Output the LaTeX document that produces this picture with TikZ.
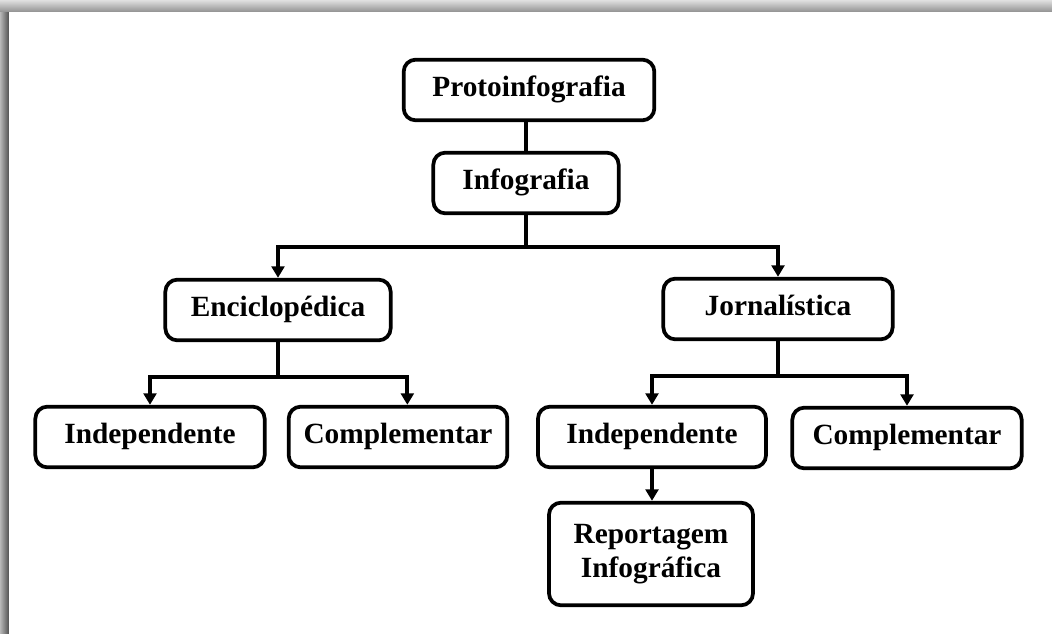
\documentclass[tikz,border=0pt]{standalone}
\usepackage{fontspec}
\setmainfont{Liberation Serif}
\usetikzlibrary{arrows.meta}
\tikzset{
  kasten/.style={draw, line width=2.8pt, rounded corners=9pt, fill=white,
    font=\fontsize{22}{26}\selectfont\bfseries, align=center, inner sep=0pt,
    minimum height=45.5pt},
  zeile/.style={kasten, text height=14.6pt, text depth=4.8pt},
  linie/.style={line width=2.8pt},
  pfeil/.style={line width=2.8pt, -{Triangle[width=9.5pt,length=8.5pt]}},
}
\begin{document}
\begin{tikzpicture}[x=0.75pt, y=-0.75pt]
  \useasboundingbox (0,0) rectangle (1052,634);
  % Rahmen
  \fill[white] (0,0) rectangle (1052,634);
  \foreach \i in {0,...,8}{
    \pgfmathsetmacro{\g}{28+4.5*\i}
    \fill[black!\g] (\i,0) rectangle (\i+1,634);
  }
  \foreach \i in {0,...,11}{
    \pgfmathsetmacro{\g}{12+2.6*\i}
    \fill[black!\g] (0,\i) rectangle (1052,\i+1);
  }
  % Knoten
  \node[zeile, minimum width=188pt] (proto) at (529, 90) {Protoinfografia};
  \node[zeile, minimum width=139pt] (info)  at (526,183) {Infografia};
  \node[zeile, minimum width=169pt] (enc)   at (278,310) {Enciclopédica};
  \node[zeile, minimum width=172pt] (jor)   at (778,309) {Jornalística};
  \node[zeile, minimum width=172pt] (indL)  at (150,437) {Independente};
  \node[zeile, minimum width=164pt] (compL) at (398,437) {Complementar};
  \node[zeile, minimum width=171pt] (indR)  at (652,437) {Independente};
  \node[zeile, minimum width=172pt] (compR) at (907,438) {Complementar};
  \node[kasten, minimum width=153pt, minimum height=77pt] (rep) at (651,554)
    {Reportagem\\Infográfica};
  % Verbindungen
  \draw[linie] (info.north |- proto.south) -- (info.north);
  \draw[pfeil] (info.south) -- ++(0,32) -| (enc.north);
  \draw[pfeil] (info.south) -- ++(0,32) -| (jor.north);
  \draw[pfeil] (enc.south) -- ++(0,35) -| (indL.north);
  \draw[pfeil] (enc.south) -- ++(0,35) -| ([xshift=7pt]compL.north);
  \draw[pfeil] (jor.south) -- ++(0,35) -| (indR.north);
  \draw[pfeil] (jor.south) -- ++(0,35) -| (compR.north);
  \draw[pfeil] (indR.south) -- (indR.south |- rep.north);
\end{tikzpicture}
\end{document}
